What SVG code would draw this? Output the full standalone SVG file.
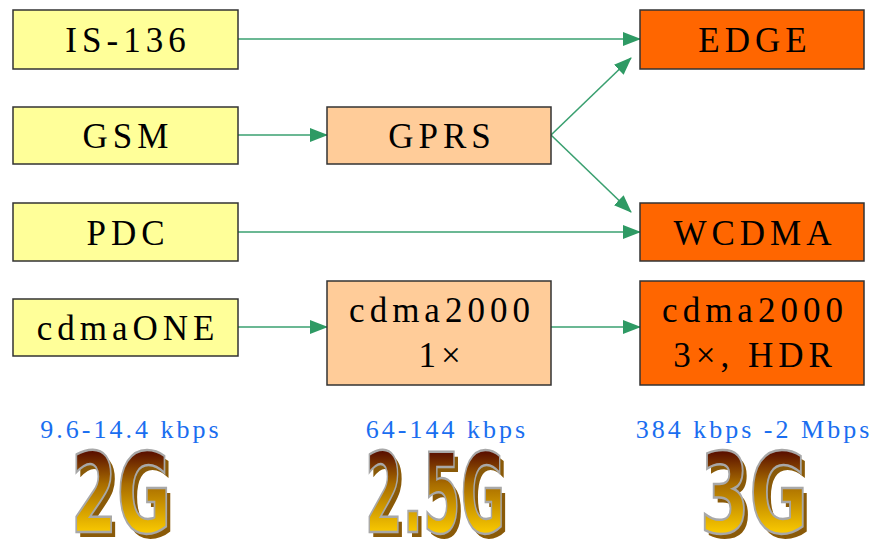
<svg xmlns="http://www.w3.org/2000/svg" width="876" height="541" viewBox="0 0 876 541">
<defs>
<style>
.n2{fill:#ffff99;stroke:#333;stroke-width:1.5}
.n25{fill:#ffcc99;stroke:#333;stroke-width:1.5}
.n3{fill:#ff6600;stroke:#333;stroke-width:1.5}
.t{font-family:"Liberation Serif","Times New Roman",serif;font-size:35px;letter-spacing:5px;fill:#000;text-anchor:middle}
.sp{font-family:"Liberation Serif","Times New Roman",serif;font-size:26px;letter-spacing:3px;fill:#1a6ef0;text-anchor:middle}
.big{font-family:"Liberation Sans Narrow","DejaVu Sans Condensed","Liberation Sans",sans-serif;font-weight:bold;font-size:110px}
.bigf{fill:url(#gold);stroke:#a8a8a8;stroke-width:2.5}
.bigs{fill:#8a5a08}
.c line{stroke:#3aa070;stroke-width:1.6}
</style>
<linearGradient id="gold" gradientUnits="userSpaceOnUse" x1="0" y1="452" x2="0" y2="532">
<stop offset="0" stop-color="#5a1000"/>
<stop offset="0.4" stop-color="#a86c00"/>
<stop offset="1" stop-color="#f8c800"/>
</linearGradient>
<marker id="ah" markerWidth="18" markerHeight="14" refX="17" refY="7" orient="auto" markerUnits="userSpaceOnUse">
<path d="M0,0 L18,7 L0,14 Z" fill="#2e9a64"/>
</marker>
</defs>
<g class="c">
<line x1="238" y1="39" x2="640" y2="39" marker-end="url(#ah)"/>
<line x1="238" y1="135" x2="327" y2="135" marker-end="url(#ah)"/>
<line x1="238" y1="232" x2="640" y2="232" marker-end="url(#ah)"/>
<line x1="238" y1="327" x2="327" y2="327" marker-end="url(#ah)"/>
<line x1="551" y1="327" x2="640" y2="327" marker-end="url(#ah)"/>
<line x1="551" y1="135" x2="631" y2="58" marker-end="url(#ah)"/>
<line x1="551" y1="135" x2="631" y2="212" marker-end="url(#ah)"/>
</g>
<g id="is136"><rect class="n2" x="13" y="10" width="225" height="59"/><text class="t" x="128" y="52">IS-136</text></g>
<g id="gsm"><rect class="n2" x="13" y="107" width="225" height="57"/><text class="t" x="128" y="148">GSM</text></g>
<g id="pdc"><rect class="n2" x="13" y="203" width="225" height="58"/><text class="t" x="128" y="245">PDC</text></g>
<g id="cdmaone"><rect class="n2" x="13" y="299" width="225" height="57"/><text class="t" x="128" y="340">cdmaONE</text></g>
<g id="gprs"><rect class="n25" x="327" y="107" width="224" height="57"/><text class="t" x="442" y="148">GPRS</text></g>
<g id="cdma1x"><rect class="n25" x="327" y="281" width="224" height="104"/><text class="t" x="442" y="322">cdma2000</text><text class="t" x="442" y="367">1×</text></g>
<g id="edge"><rect class="n3" x="640" y="10" width="224" height="59"/><text class="t" x="755" y="52">EDGE</text></g>
<g id="wcdma"><rect class="n3" x="640" y="203" width="224" height="58"/><text class="t" x="755" y="245">WCDMA</text></g>
<g id="cdma3x"><rect class="n3" x="640" y="281" width="224" height="104"/><text class="t" x="755" y="322">cdma2000</text><text class="t" x="755" y="367">3×, HDR</text></g>
<g id="labels">
<text class="sp" x="131" y="438">9.6-14.4 kbps</text>
<text class="sp" x="447" y="438">64-144 kbps</text>
<text class="sp" x="754" y="438">384 kbps -2 Mbps</text>
</g>
<g id="gen2">
<text class="big bigs" x="75" y="537" textLength="100" lengthAdjust="spacingAndGlyphs">2G</text>
<text class="big bigf" x="71" y="532" textLength="100" lengthAdjust="spacingAndGlyphs">2G</text>
</g>
<g id="gen25">
<text class="big bigs" x="369" y="537" textLength="140" lengthAdjust="spacingAndGlyphs">2.5G</text>
<text class="big bigf" x="365" y="532" textLength="140" lengthAdjust="spacingAndGlyphs">2.5G</text>
</g>
<g id="gen3">
<text class="big bigs" x="704" y="537" textLength="108" lengthAdjust="spacingAndGlyphs">3G</text>
<text class="big bigf" x="700" y="532" textLength="108" lengthAdjust="spacingAndGlyphs">3G</text>
</g>
</svg>
